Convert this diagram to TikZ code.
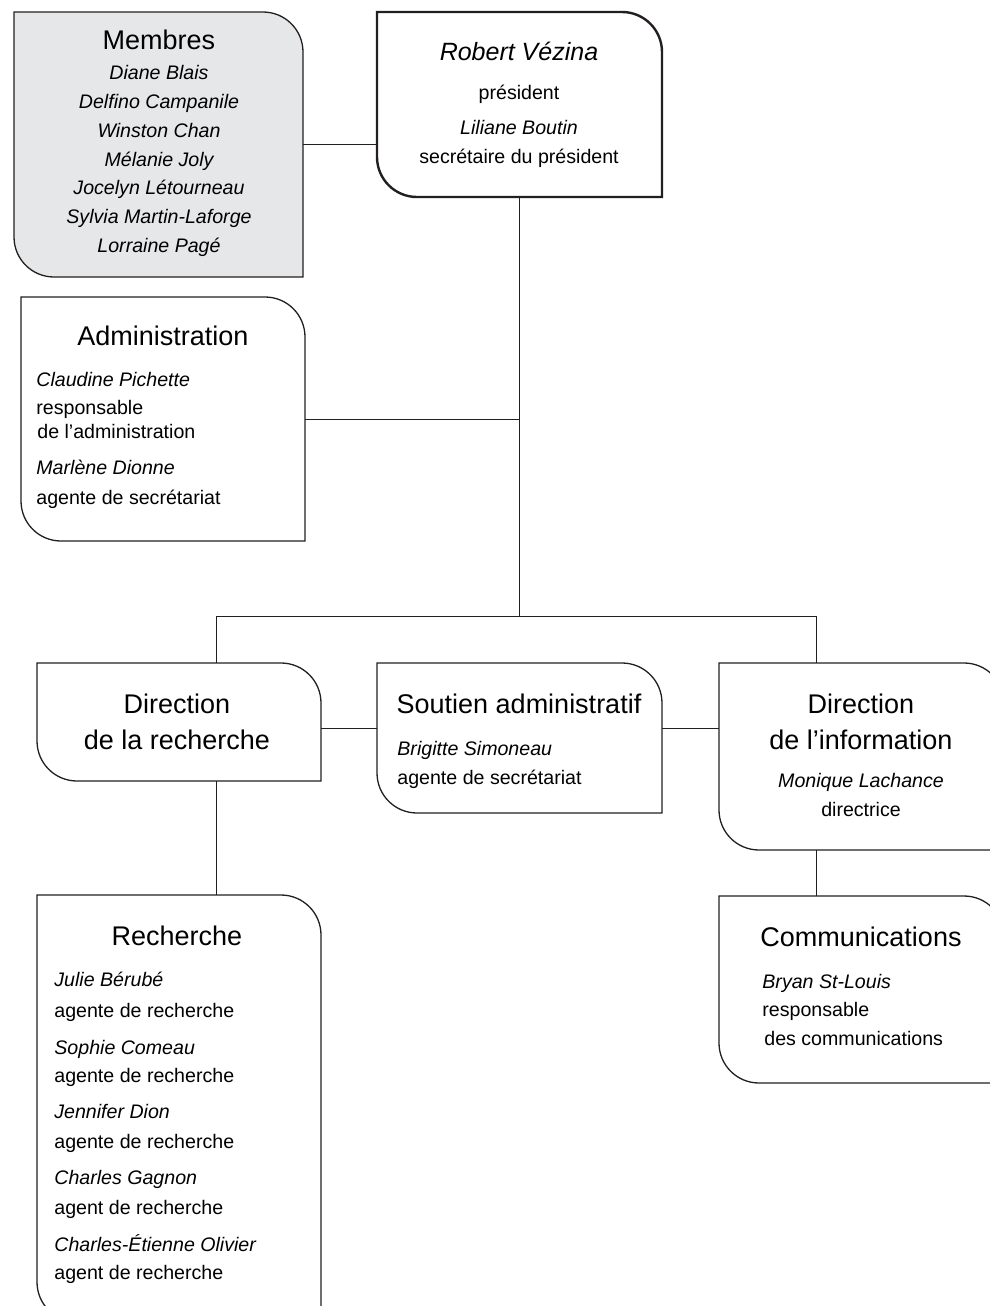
\documentclass[tikz,border=0pt]{standalone}
\usepackage{fontspec}
\setmainfont{Liberation Sans}
\usetikzlibrary{calc}
\definecolor{orggray}{HTML}{E6E7E8}
\definecolor{orgline}{HTML}{231F20}
\tikzstyle{unit}=[inner sep=0, outer sep=0]
\tikzstyle{frame}=[draw=orgline, line width=0.65pt]
\tikzstyle{orghead}=[inner sep=0, font=\fontsize{13.5}{16}\selectfont, text height=0.72em, text depth=0pt]
\tikzstyle{orgrole}=[inner sep=0, font=\fontsize{9.8}{12}\selectfont, text height=0.72em, text depth=0pt]
\tikzstyle{orgperson}=[orgrole, font=\fontsize{9.8}{12}\selectfont\itshape]
\tikzstyle{link}=[draw=orgline, line width=0.5pt]

% box with rounded top right and bottom left corners
\newcommand{\orgframe}[2][]{%
  \draw [frame, #1] (#2.north west) -- ([xshift=-20pt]#2.north east)
    arc [start angle=90, end angle=0, radius=20pt] -- (#2.south east)
    -- ([xshift=20pt]#2.south west)
    arc [start angle=270, end angle=180, radius=20pt] -- cycle;}

\begin{document}
\begin{tikzpicture}[x=0.5pt, y=0.5pt]
\useasboundingbox (0, 0) rectangle (990, -1306);
\clip (0, 0) rectangle (990, -1306);

\node [unit, minimum width=144.5pt, minimum height=132.5pt] (membres) at (158.5, -144.5) {};
\node [unit, minimum width=142.5pt, minimum height=92.5pt]  (pres)    at (519.5, -104.5) {};
\node [unit, minimum width=142pt,   minimum height=122pt]   (admin)   at (163, -419) {};
\node [unit, minimum width=142pt,   minimum height=59pt]    (dirrech) at (179, -722) {};
\node [unit, minimum width=142.5pt, minimum height=75pt]    (soutien) at (519.5, -738) {};
\node [unit, minimum width=142.5pt, minimum height=93.5pt]  (dirinfo) at (861.5, -756.5) {};
\node [unit, minimum width=142pt,   minimum height=213.5pt] (rech)    at (179, -1108.5) {};
\node [unit, minimum width=142.5pt, minimum height=93.5pt]  (comm)    at (861.5, -989.5) {};

\orgframe[fill=orggray]{membres}
\orgframe[line width=1.2pt]{pres}
\orgframe{admin}
\orgframe{dirrech}
\orgframe{soutien}
\orgframe{dirinfo}
\orgframe{rech}
\orgframe{comm}

% Membres
\node [orghead]   (membres-h) at (159, -42)  {Membres};
\node [orgperson] (m1) at (159, -72)  {Diane Blais};
\node [orgperson] (m2) at (159, -101) {Delfino Campanile};
\node [orgperson] (m3) at (159, -130) {Winston Chan};
\node [orgperson] (m4) at (159, -159) {Mélanie Joly};
\node [orgperson] (m5) at (159, -187) {Jocelyn Létourneau};
\node [orgperson] (m6) at (159, -216) {Sylvia Martin-Laforge};
\node [orgperson] (m7) at (159, -245) {Lorraine Pagé};

% president
\node [orghead, font=\fontsize{12.5}{15}\selectfont\itshape] (pres-h) at (519, -53) {Robert Vézina};
\node [orgrole]   (pres-r)  at (519, -92)  {président};
\node [orgperson] (pres-p2) at (519, -127) {Liliane Boutin};
\node [orgrole]   (pres-r2) at (519, -156) {secrétaire du président};

% Administration
\node [orghead]                  (admin-h)  at (163, -338) {Administration};
\node [orgperson, anchor=west]   (admin-p1) at (36, -379)  {Claudine Pichette};
\node [orgrole, anchor=west]     (admin-r1) at (36, -407)  {responsable};
\node [orgrole, anchor=west]     (admin-r2) at (37, -431)  {de l’administration};
\node [orgperson, anchor=west]   (admin-p2) at (36, -467)  {Marlène Dionne};
\node [orgrole, anchor=west]     (admin-r3) at (36, -497)  {agente de secrétariat};

% Direction de la recherche
\node [orghead] (dirrech-h1) at (177, -706) {Direction};
\node [orghead] (dirrech-h2) at (177, -742) {de la recherche};

% Soutien administratif
\node [orghead]                (soutien-h) at (519, -706) {Soutien administratif};
\node [orgperson, anchor=west] (soutien-p) at (397, -748) {Brigitte Simoneau};
\node [orgrole, anchor=west]   (soutien-r) at (397, -777) {agente de secrétariat};

% Direction de l'information
\node [orghead]   (dirinfo-h1) at (861, -706) {Direction};
\node [orghead]   (dirinfo-h2) at (861, -742) {de l’information};
\node [orgperson] (dirinfo-p)  at (861, -780) {Monique Lachance};
\node [orgrole]   (dirinfo-r)  at (861, -809) {directrice};

% Recherche
\node [orghead]                (rech-h)  at (177, -938)  {Recherche};
\node [orgperson, anchor=west] (rech-p1) at (54, -979)   {Julie Bérubé};
\node [orgrole, anchor=west]   (rech-r1) at (54, -1010)  {agente de recherche};
\node [orgperson, anchor=west] (rech-p2) at (54, -1047)  {Sophie Comeau};
\node [orgrole, anchor=west]   (rech-r2) at (54, -1075)  {agente de recherche};
\node [orgperson, anchor=west] (rech-p3) at (54, -1111)  {Jennifer Dion};
\node [orgrole, anchor=west]   (rech-r3) at (54, -1141)  {agente de recherche};
\node [orgperson, anchor=west] (rech-p4) at (54, -1177)  {Charles Gagnon};
\node [orgrole, anchor=west]   (rech-r4) at (54, -1207)  {agent de recherche};
\node [orgperson, anchor=west] (rech-p5) at (54, -1244)  {Charles-Étienne Olivier};
\node [orgrole, anchor=west]   (rech-r5) at (54, -1272)  {agent de recherche};

% Communications
\node [orghead]                (comm-h)  at (861, -939)  {Communications};
\node [orgperson, anchor=west] (comm-p)  at (762, -981)  {Bryan St-Louis};
\node [orgrole, anchor=west]   (comm-r1) at (762, -1009) {responsable};
\node [orgrole, anchor=west]   (comm-r2) at (764, -1038) {des communications};

% connectors
\coordinate (hub) at (519.5, -616);
\coordinate (tl)  at (216, -616);
\coordinate (tr)  at (816, -616);
\coordinate (row) at (0, -728);

\draw [link] (membres.east) -- (membres.east -| pres.west);
\draw [link] (pres.south) -- (hub);
\draw [link] (admin.east) -- (admin.east -| pres.south);
\draw [link] (tl) -- (tr);
\draw [link] (tl) -- (tl |- dirrech.north);
\draw [link] (tr) -- (tr |- dirinfo.north);
\draw [link] (dirrech.east |- row) -- (soutien.west |- row);
\draw [link] (soutien.east |- row) -- (dirinfo.west |- row);
\draw [link] (tl |- dirrech.south) -- (tl |- rech.north);
\draw [link] (tr |- dirinfo.south) -- (tr |- comm.north);

\end{tikzpicture}
\end{document}
